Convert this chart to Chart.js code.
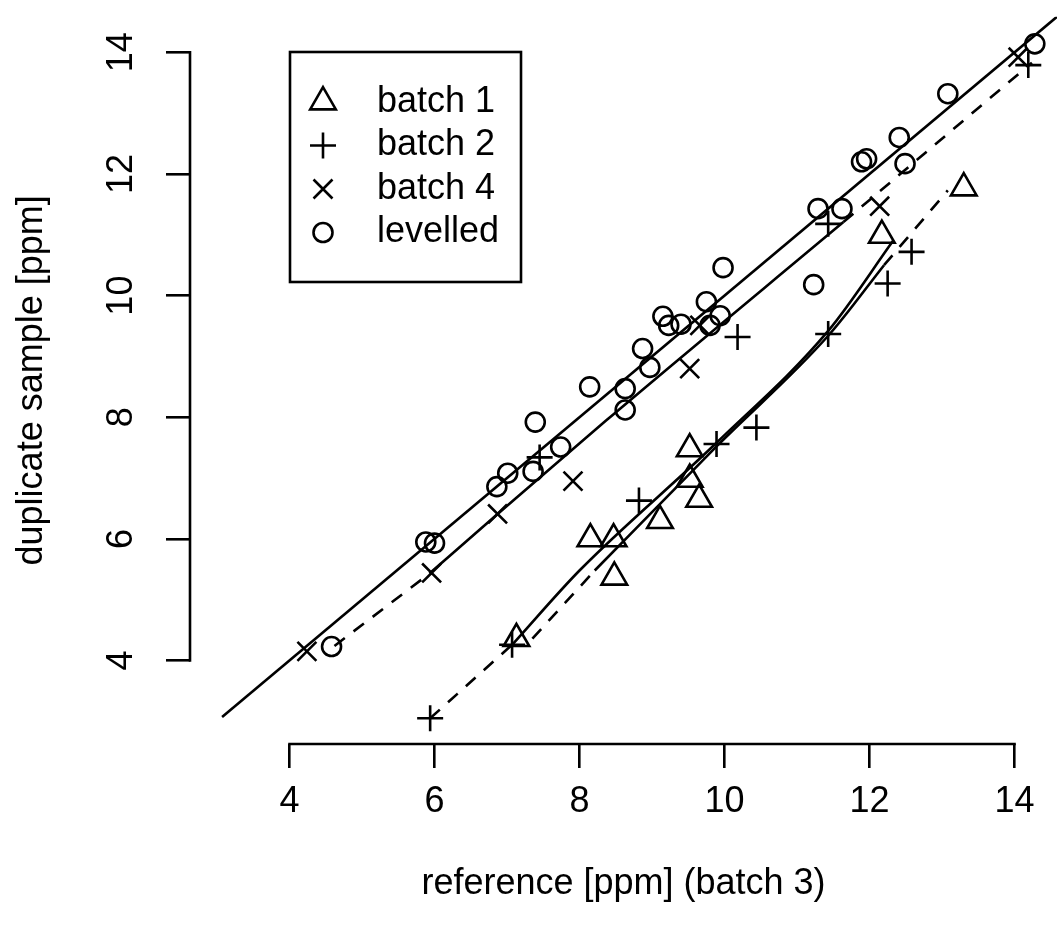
<!DOCTYPE html>
<html>
<head>
<meta charset="utf-8">
<title>duplicate vs reference</title>
<script src="https://cdn.jsdelivr.net/npm/chart.js@4.4.1/dist/chart.umd.min.js"></script>
<style>
  html, body { margin: 0; padding: 0; background: #fff; }
  #wrap { width: 1057px; height: 926px; position: relative; }
</style>
</head>
<body>
<div id="wrap"><canvas id="chart"></canvas></div>
<script>
// measured values, ppm: x = reference (batch 3), y = duplicate sample
const batch1X = [7.13, 8.15, 8.47, 8.48, 9.11, 9.52, 9.52, 9.65, 12.17, 13.30];
const batch1Y = [4.36, 6.00, 6.00, 5.37, 6.30, 7.48, 6.98, 6.65, 10.99, 11.77];

const batch2X = [5.94, 7.07, 7.45, 8.82, 9.89, 10.18, 10.44, 11.43, 11.43, 12.25, 12.58, 14.19];
const batch2Y = [3.05, 4.26, 7.34, 6.63, 7.56, 9.32, 7.83, 9.37, 11.18, 10.20, 10.72, 13.79];

const batch4X = [4.24, 5.96, 6.87, 7.91, 9.52, 9.66, 12.14, 14.05];
const batch4Y = [4.15, 5.44, 6.41, 6.95, 8.80, 9.51, 11.47, 13.92];

const levelledX = [4.58, 5.88, 6.00, 6.86, 7.01, 7.36, 7.39, 7.74, 8.14, 8.63, 8.63, 8.87, 8.97, 9.15, 9.23,
                   9.40, 9.75, 9.80, 9.94, 9.98, 11.23, 11.29, 11.62, 11.89, 11.96, 12.41, 12.49, 13.08, 14.28];
const levelledY = [4.23, 5.95, 5.93, 6.86, 7.08, 7.11, 7.92, 7.51, 8.50, 8.47, 8.12, 9.13, 8.82, 9.66, 9.51,
                   9.53, 9.90, 9.51, 9.67, 10.46, 10.18, 11.43, 11.43, 12.20, 12.25, 12.60, 12.17, 13.32, 14.14];

// y = x
const identityX = [3.07, 14.6];
const identityY = [3.07, 14.6];

// upper calibration curve: dashed outside, solid inside
const upperLowX = [4.62, 5.93];
const upperLowY = [4.24, 5.43];
const upperMidX = [5.93, 6.87, 8.37, 11.64];
const upperMidY = [5.43, 6.41, 7.95, 11.21];
const upperHighX = [11.64, 14.24];
const upperHighY = [11.21, 13.83];

// lower pair of curves
const lowerALowX = [5.94, 7.08];
const lowerALowY = [3.05, 4.27];
const lowerAMidX = [7.08, 8.00, 9.89, 11.43, 12.33];
const lowerAMidY = [4.27, 5.48, 7.58, 9.42, 10.91];
const lowerBLowX = [7.35, 8.21];
const lowerBLowY = [4.36, 5.48];
const lowerBMidX = [8.21, 9.89, 11.43, 12.20];
const lowerBMidY = [5.48, 7.52, 9.34, 10.50];
const lowerBHighX = [12.20, 13.08];
const lowerBHighY = [10.50, 11.73];

const tickValues = [4, 6, 8, 10, 12, 14];
const axisMin = 2.6276;
const axisMax = 14.586;

const FONT = "'Liberation Sans', Arial, Helvetica, sans-serif";
const LW = 2.6;
const DASH = [13, 11];

function pts(xs, ys) {
  return xs.map((x, i) => ({ x: x, y: ys[i] }));
}

function markerSet(label, xs, ys, style, radius) {
  return {
    type: 'scatter',
    label: label,
    data: pts(xs, ys),
    pointStyle: style,
    pointRadius: radius,
    pointHoverRadius: radius,
    pointBorderWidth: LW,
    pointBorderColor: '#000',
    pointBackgroundColor: 'rgba(0,0,0,0)',
    showLine: false
  };
}

function lineSet(xs, ys, dashed) {
  return {
    type: 'line',
    data: pts(xs, ys),
    borderColor: '#000',
    borderWidth: LW,
    borderDash: dashed ? DASH : [],
    borderCapStyle: 'butt',
    cubicInterpolationMode: 'monotone',
    pointRadius: 0,
    pointHoverRadius: 0,
    fill: false
  };
}

// keep the plot region fixed: no extra room for edge labels
function fixScale(size) {
  return (scale) => {
    if (scale.isHorizontal()) scale.height = size; else scale.width = size;
    scale.paddingTop = 0;
    scale.paddingBottom = 0;
    scale.paddingLeft = 0;
    scale.paddingRight = 0;
  };
}

// axis lines only span the labelled range, like base R graphics
const axisLines = {
  id: 'axisLines',
  afterDraw(chart) {
    const { ctx, chartArea, scales } = chart;
    const first = tickValues[0];
    const last = tickValues[tickValues.length - 1];
    ctx.save();
    ctx.strokeStyle = '#000';
    ctx.lineWidth = LW;
    ctx.lineCap = 'square';
    ctx.beginPath();
    ctx.moveTo(scales.x.getPixelForValue(first), chartArea.bottom);
    ctx.lineTo(scales.x.getPixelForValue(last), chartArea.bottom);
    ctx.moveTo(chartArea.left, scales.y.getPixelForValue(first));
    ctx.lineTo(chartArea.left, scales.y.getPixelForValue(last));
    ctx.stroke();
    ctx.restore();
  }
};

// boxed legend in the upper left corner
const boxLegend = {
  id: 'boxLegend',
  afterDraw(chart, args, opts) {
    const ctx = chart.ctx;
    const sets = chart.data.datasets.filter(d => d.type === 'scatter');
    ctx.save();
    ctx.lineWidth = LW;
    ctx.strokeStyle = '#000';
    ctx.strokeRect(opts.left, opts.top, opts.width, opts.height);
    ctx.font = opts.fontSize + 'px ' + FONT;
    ctx.textAlign = 'left';
    ctx.textBaseline = 'middle';
    sets.forEach((d, i) => {
      const yy = opts.top + opts.firstRow + i * opts.rowStep;
      ctx.fillStyle = 'rgba(0,0,0,0)';
      Chart.helpers.drawPoint(ctx, {
        pointStyle: d.pointStyle,
        radius: d.pointRadius,
        borderWidth: LW,
        rotation: 0
      }, opts.left + opts.symbolX, yy);
      ctx.fillStyle = '#000';
      ctx.fillText(d.label, opts.left + opts.textX, yy);
    });
    ctx.restore();
  }
};

const ctx = document.getElementById('chart');

new Chart(ctx, {
  type: 'scatter',
  data: {
    datasets: [
      markerSet('batch 1', batch1X, batch1Y, 'triangle', 14.8),
      markerSet('batch 2', batch2X, batch2Y, 'cross', 13),
      markerSet('batch 4', batch4X, batch4Y, 'crossRot', 13.4),
      markerSet('levelled', levelledX, levelledY, 'circle', 9.5),
      lineSet(identityX, identityY, false),
      lineSet(upperLowX, upperLowY, true),
      lineSet(upperMidX, upperMidY, false),
      lineSet(upperHighX, upperHighY, true),
      lineSet(lowerALowX, lowerALowY, true),
      lineSet(lowerAMidX, lowerAMidY, false),
      lineSet(lowerBLowX, lowerBLowY, true),
      lineSet(lowerBMidX, lowerBMidY, false),
      lineSet(lowerBHighX, lowerBHighY, true)
    ]
  },
  options: {
    responsive: true,
    maintainAspectRatio: false,
    devicePixelRatio: 1,
    animation: false,
    events: [],
    layout: {
      autoPadding: false,
      padding: { top: 16.7, right: 0, bottom: 0, left: 0 }
    },
    plugins: {
      legend: { display: false },
      tooltip: { enabled: false },
      boxLegend: {
        left: 290, top: 52, width: 231, height: 230,
        symbolX: 33, textX: 87, firstRow: 50, rowStep: 43.5,
        fontSize: 36
      }
    },
    scales: {
      x: {
        type: 'linear',
        position: 'bottom',
        min: axisMin,
        max: axisMax,
        afterBuildTicks: (scale) => { scale.ticks = tickValues.map(v => ({ value: v })); },
        afterFit: fixScale(182),
        border: { display: false },
        grid: {
          display: true,
          drawOnChartArea: false,
          drawTicks: true,
          tickLength: 24,
          color: '#000',
          lineWidth: LW
        },
        ticks: {
          autoSkip: false,
          maxRotation: 0,
          padding: 12,
          color: '#000',
          font: { family: FONT, size: 36 }
        },
        title: {
          display: true,
          text: 'reference [ppm] (batch 3)',
          color: '#000',
          font: { family: FONT, size: 36 },
          padding: { top: 0, bottom: 20 }
        }
      },
      y: {
        type: 'linear',
        position: 'left',
        min: axisMin,
        max: axisMax,
        afterBuildTicks: (scale) => { scale.ticks = tickValues.map(v => ({ value: v })); },
        afterFit: fixScale(190),
        border: { display: false },
        grid: {
          display: true,
          drawOnChartArea: false,
          drawTicks: true,
          tickLength: 24,
          color: '#000',
          lineWidth: LW
        },
        ticks: {
          autoSkip: false,
          minRotation: 90,
          maxRotation: 90,
          crossAlign: 'center',
          padding: 24,
          color: '#000',
          font: { family: FONT, size: 36 }
        },
        title: {
          display: true,
          text: 'duplicate sample [ppm]',
          color: '#000',
          font: { family: FONT, size: 36 },
          padding: { top: 10, bottom: 0 }
        }
      }
    }
  },
  plugins: [axisLines, boxLegend]
});
</script>
</body>
</html>
